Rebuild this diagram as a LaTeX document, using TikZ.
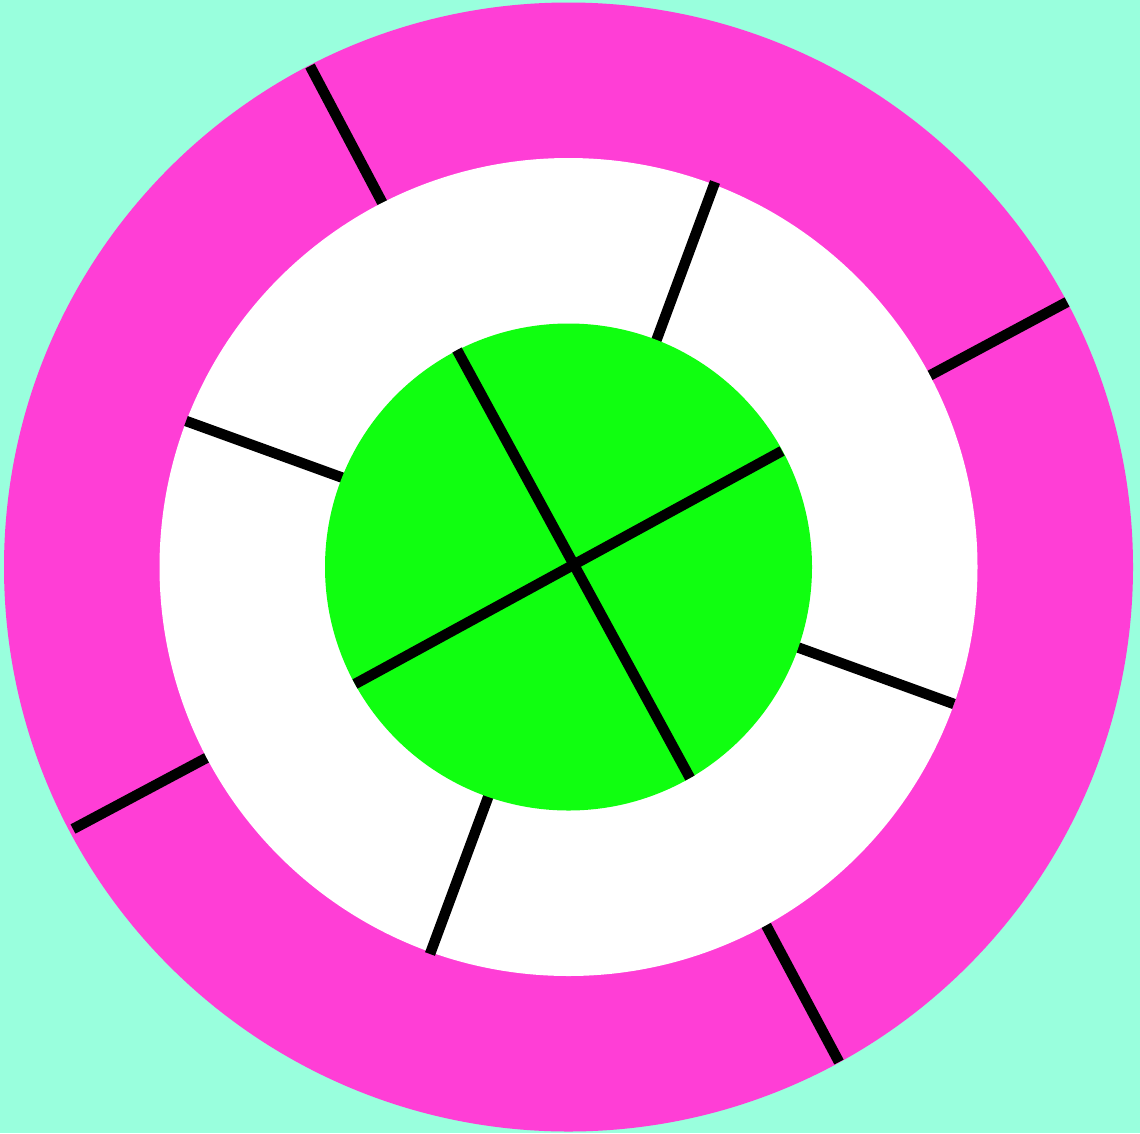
\documentclass[tikz,border=0pt]{standalone}
\definecolor{mint}{RGB}{153,255,221}
\definecolor{pinkring}{RGB}{255,62,214}
\definecolor{greendisc}{RGB}{16,255,16}
\tikzset{spoke/.style={draw=black,line width=10.5pt,line cap=butt}}
\begin{document}
\begin{tikzpicture}[x=1pt,y=-1pt]
\fill[mint] (0,0) rectangle (1140,1133);
\useasboundingbox (0,0) rectangle (1140,1133);
\coordinate (c) at (568.5,567);
% outer ring
\fill[pinkring] (c) circle[radius=564.5];
\coordinate (p1a) at (310,66);   \coordinate (p1b) at (384,206);
\coordinate (p2a) at (1067,302); \coordinate (p2b) at (927,377);
\coordinate (p3a) at (839,1062); \coordinate (p3b) at (766,925);
\coordinate (p4a) at (73,829);   \coordinate (p4b) at (210,756);
\foreach \a/\b in {p1a/p1b,p2a/p2b,p3a/p3b,p4a/p4b}
  \draw[spoke] (\a) -- (\b);
% white ring
\fill[white] (c) circle[radius=409];
\coordinate (w1a) at (186,421); \coordinate (w1b) at (346,479);
\coordinate (w2a) at (715,182); \coordinate (w2b) at (655,344);
\coordinate (w3a) at (794,646); \coordinate (w3b) at (954,704);
\coordinate (w4a) at (490,792); \coordinate (w4b) at (430,954);
\foreach \a/\b in {w1a/w1b,w2a/w2b,w3a/w3b,w4a/w4b}
  \draw[spoke] (\a) -- (\b);
% green disc
\fill[greendisc] (c) circle[radius=243.5];
\coordinate (g1a) at (457,350); \coordinate (g1b) at (690,778);
\coordinate (g2a) at (355,684); \coordinate (g2b) at (782,451);
\draw[spoke] (g1a) -- (g1b);
\draw[spoke] (g2a) -- (g2b);
\end{tikzpicture}
\end{document}
